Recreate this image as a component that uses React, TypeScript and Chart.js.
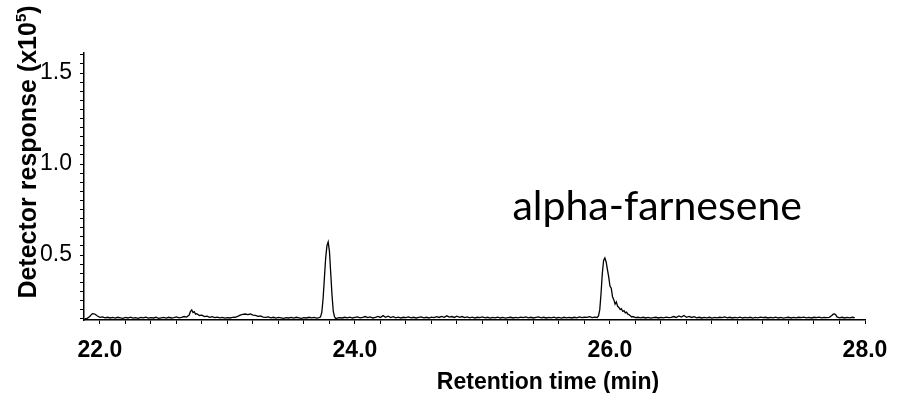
import React, { useEffect, useRef } from "react";
import { Chart, registerables } from "chart.js";

Chart.register(...registerables);

// Retention time (min)
const times: number[] = [
  21.88, 21.90, 21.92, 21.94, 21.96, 21.98, 22.00, 22.02, 22.04, 22.06, 22.08, 22.10, 22.12, 22.14, 22.16, 22.18,
  22.20, 22.22, 22.24, 22.26, 22.28, 22.30, 22.32, 22.34, 22.36, 22.38, 22.40, 22.42, 22.44, 22.46, 22.48, 22.50,
  22.52, 22.54, 22.56, 22.58, 22.60, 22.62, 22.64, 22.66, 22.68, 22.70, 22.71, 22.72, 22.73, 22.74, 22.75, 22.76,
  22.78, 22.80, 22.82, 22.84, 22.86, 22.88, 22.90, 22.92, 22.94, 22.96, 22.98, 23.00, 23.02, 23.04, 23.06, 23.08,
  23.10, 23.12, 23.14, 23.16, 23.18, 23.20, 23.22, 23.24, 23.26, 23.28, 23.30, 23.32, 23.34, 23.36, 23.38, 23.40,
  23.42, 23.44, 23.46, 23.48, 23.50, 23.52, 23.54, 23.56, 23.58, 23.60, 23.62, 23.64, 23.66, 23.68, 23.70, 23.72,
  23.73, 23.74, 23.75, 23.76, 23.77, 23.78, 23.79, 23.80, 23.81, 23.82, 23.83, 23.84, 23.85, 23.86, 23.88, 23.90,
  23.92, 23.94, 23.96, 23.98, 24.00, 24.02, 24.04, 24.06, 24.08, 24.10, 24.12, 24.14, 24.16, 24.18, 24.20, 24.22,
  24.24, 24.26, 24.28, 24.30, 24.32, 24.34, 24.36, 24.38, 24.40, 24.42, 24.44, 24.46, 24.48, 24.50, 24.52, 24.54,
  24.56, 24.58, 24.60, 24.62, 24.64, 24.66, 24.68, 24.70, 24.72, 24.74, 24.76, 24.78, 24.80, 24.82, 24.84, 24.86,
  24.88, 24.90, 24.92, 24.94, 24.96, 24.98, 25.00, 25.02, 25.04, 25.06, 25.08, 25.10, 25.12, 25.14, 25.16, 25.18,
  25.20, 25.22, 25.24, 25.26, 25.28, 25.30, 25.32, 25.34, 25.36, 25.38, 25.40, 25.42, 25.44, 25.46, 25.48, 25.50,
  25.52, 25.54, 25.56, 25.58, 25.60, 25.62, 25.64, 25.66, 25.68, 25.70, 25.72, 25.74, 25.76, 25.78, 25.80, 25.82,
  25.84, 25.86, 25.88, 25.90, 25.91, 25.92, 25.93, 25.94, 25.95, 25.96, 25.97, 25.98, 25.99, 26.00, 26.01, 26.02,
  26.03, 26.04, 26.05, 26.06, 26.07, 26.08, 26.09, 26.10, 26.11, 26.12, 26.13, 26.14, 26.15, 26.16, 26.17, 26.18,
  26.20, 26.22, 26.24, 26.26, 26.28, 26.30, 26.32, 26.34, 26.36, 26.38, 26.40, 26.42, 26.44, 26.46, 26.48, 26.50,
  26.52, 26.54, 26.56, 26.58, 26.60, 26.62, 26.64, 26.66, 26.68, 26.70, 26.72, 26.74, 26.76, 26.78, 26.80, 26.82,
  26.84, 26.86, 26.88, 26.90, 26.92, 26.94, 26.96, 26.98, 27.00, 27.02, 27.04, 27.06, 27.08, 27.10, 27.12, 27.14,
  27.16, 27.18, 27.20, 27.22, 27.24, 27.26, 27.28, 27.30, 27.32, 27.34, 27.36, 27.38, 27.40, 27.42, 27.44, 27.46,
  27.48, 27.50, 27.52, 27.54, 27.56, 27.58, 27.60, 27.62, 27.64, 27.66, 27.68, 27.70, 27.72, 27.74, 27.75, 27.76,
  27.77, 27.78, 27.80, 27.82, 27.84, 27.86, 27.88, 27.90, 27.92,
];

// Detector response (x10^5)
const response: number[] = [
  0.150, 0.152, 0.162, 0.178, 0.176, 0.165, 0.158, 0.160, 0.155, 0.158, 0.154, 0.157, 0.153, 0.158, 0.155, 0.152,
  0.157, 0.154, 0.159, 0.153, 0.156, 0.152, 0.157, 0.155, 0.159, 0.153, 0.156, 0.154, 0.158, 0.152, 0.155, 0.157,
  0.153, 0.158, 0.154, 0.156, 0.160, 0.155, 0.158, 0.162, 0.159, 0.170, 0.190, 0.198, 0.184, 0.189, 0.175, 0.178,
  0.168, 0.170, 0.162, 0.164, 0.158, 0.161, 0.156, 0.159, 0.155, 0.157, 0.153, 0.156, 0.154, 0.157, 0.158, 0.163,
  0.170, 0.174, 0.176, 0.173, 0.176, 0.170, 0.168, 0.163, 0.165, 0.159, 0.157, 0.160, 0.155, 0.158, 0.153, 0.157,
  0.155, 0.152, 0.156, 0.154, 0.157, 0.153, 0.158, 0.155, 0.152, 0.156, 0.154, 0.158, 0.155, 0.157, 0.153, 0.156,
  0.160, 0.185, 0.260, 0.370, 0.480, 0.550, 0.572, 0.520, 0.400, 0.280, 0.190, 0.160, 0.150, 0.153, 0.156, 0.154,
  0.158, 0.155, 0.159, 0.154, 0.157, 0.160, 0.155, 0.158, 0.162, 0.156, 0.160, 0.154, 0.158, 0.163, 0.157, 0.167,
  0.158, 0.164, 0.156, 0.161, 0.155, 0.159, 0.154, 0.158, 0.156, 0.160, 0.155, 0.158, 0.154, 0.157, 0.160, 0.155,
  0.158, 0.154, 0.159, 0.156, 0.161, 0.157, 0.163, 0.158, 0.166, 0.159, 0.162, 0.157, 0.164, 0.158, 0.162, 0.156,
  0.160, 0.155, 0.159, 0.154, 0.158, 0.156, 0.160, 0.155, 0.158, 0.153, 0.157, 0.155, 0.159, 0.154, 0.157, 0.153,
  0.156, 0.158, 0.154, 0.157, 0.155, 0.159, 0.156, 0.160, 0.155, 0.158, 0.154, 0.157, 0.160, 0.155, 0.158, 0.154,
  0.157, 0.155, 0.159, 0.154, 0.157, 0.153, 0.158, 0.155, 0.157, 0.154, 0.158, 0.155, 0.160, 0.156, 0.158, 0.157,
  0.161, 0.156, 0.159, 0.157, 0.165, 0.200, 0.290, 0.400, 0.470, 0.484, 0.462, 0.420, 0.380, 0.330, 0.318, 0.270,
  0.255, 0.230, 0.242, 0.218, 0.212, 0.200, 0.205, 0.190, 0.194, 0.182, 0.186, 0.175, 0.172, 0.166, 0.160, 0.162,
  0.156, 0.158, 0.155, 0.158, 0.154, 0.157, 0.153, 0.156, 0.158, 0.154, 0.157, 0.155, 0.159, 0.156, 0.158, 0.162,
  0.157, 0.165, 0.159, 0.168, 0.158, 0.163, 0.157, 0.161, 0.155, 0.158, 0.154, 0.157, 0.155, 0.158, 0.153, 0.157,
  0.155, 0.158, 0.156, 0.160, 0.155, 0.158, 0.154, 0.157, 0.155, 0.159, 0.154, 0.157, 0.155, 0.158, 0.153, 0.157,
  0.155, 0.159, 0.156, 0.158, 0.154, 0.157, 0.155, 0.159, 0.154, 0.157, 0.153, 0.156, 0.158, 0.154, 0.157, 0.155,
  0.158, 0.156, 0.159, 0.155, 0.157, 0.154, 0.158, 0.156, 0.159, 0.155, 0.157, 0.156, 0.158, 0.168, 0.175, 0.176,
  0.172, 0.160, 0.155, 0.158, 0.154, 0.157, 0.155, 0.158, 0.156,
];

const xTickLabels: number[] = [22, 24, 26, 28];
const yTickLabels: number[] = [0.5, 1.0, 1.5];

const xTitle = "Retention time (min)";
const yTitleMain = "Detector response (x10";
const yTitleSup = "5";
const yTitleEnd = ")";

const annotationText = "alpha-farnesene";
const annotationX = 26.37;
const annotationY = 0.69;

const FONT = '"Liberation Sans", Arial, sans-serif';

const isLabelled = (v: number, list: number[]) => list.some((l) => Math.abs(l - v) < 1e-6);

const textPlugin = {
  id: "texts",
  afterDraw(chart: any) {
    const ctx = chart.ctx as CanvasRenderingContext2D;
    const xs = chart.scales.x;
    const ys = chart.scales.y;
    ctx.save();
    ctx.fillStyle = "#000";
    // annotation
    ctx.font = '41px Lato, "Open Sans", sans-serif';
    ctx.textAlign = "center";
    ctx.textBaseline = "alphabetic";
    ctx.fillText(annotationText, xs.getPixelForValue(annotationX), ys.getPixelForValue(annotationY));
    // x title
    ctx.font = `bold 23px ${FONT}`;
    ctx.fillText(xTitle, 548, 389);
    // y title (rotated)
    ctx.translate(36, 152);
    ctx.rotate(-Math.PI / 2);
    ctx.textAlign = "left";
    const mainFont = `bold 25px ${FONT}`;
    const supFont = `bold 15px ${FONT}`;
    ctx.font = mainFont;
    const w1 = ctx.measureText(yTitleMain).width;
    const w3 = ctx.measureText(yTitleEnd).width;
    ctx.font = supFont;
    const w2 = ctx.measureText(yTitleSup).width;
    const total = w1 + w2 + w3;
    let x0 = -total / 2;
    ctx.font = mainFont;
    ctx.fillText(yTitleMain, x0, 0);
    x0 += w1;
    ctx.font = supFont;
    ctx.fillText(yTitleSup, x0, -10);
    x0 += w2;
    ctx.font = mainFont;
    ctx.fillText(yTitleEnd, x0, 0);
    ctx.restore();
  },
};

export default function App() {
  const ref = useRef<HTMLCanvasElement | null>(null);

  useEffect(() => {
    if (!ref.current) return;
    const points = times.map((t, i) => ({ x: t, y: response[i] }));
    const chart = new Chart(ref.current, {
      type: "line",
      data: {
        datasets: [
          {
            data: points,
            borderColor: "#000",
            borderWidth: 1.3,
            pointRadius: 0,
            tension: 0,
            fill: false,
          },
        ],
      },
      options: {
        animation: false,
        responsive: false,
        layout: { padding: { top: 53, right: 41, left: 0, bottom: 0 } },
        plugins: { legend: { display: false }, tooltip: { enabled: false }, title: { display: false } },
        scales: {
          x: {
            type: "linear",
            min: 21.875,
            max: 28,
            afterFit: (s: any) => {
              s.height = 73;
            },
            border: { display: true, color: "#000", width: 1.5 },
            grid: { display: true, drawOnChartArea: false, drawTicks: true, tickLength: 4, color: "#000" },
            ticks: {
              stepSize: 0.2,
              includeBounds: false,
              autoSkip: false,
              maxTicksLimit: 1000,
              maxRotation: 0,
              minRotation: 0,
              padding: 13,
              color: "#000",
              font: { family: FONT, size: 23, weight: "bold" },
              callback: (v: any) => (isLabelled(Number(v), xTickLabels) ? Number(v).toFixed(1) : ""),
            },
          },
          y: {
            type: "linear",
            min: 0.143,
            max: 1.61,
            afterFit: (s: any) => {
              s.width = 84;
            },
            border: { display: true, color: "#000", width: 1.5 },
            grid: { display: true, drawOnChartArea: false, drawTicks: true, tickLength: 4, color: "#000" },
            ticks: {
              stepSize: 0.05,
              includeBounds: false,
              autoSkip: false,
              maxTicksLimit: 1000,
              padding: 8,
              color: "#000",
              font: { family: FONT, size: 23 },
              callback: (v: any) => (isLabelled(Number(v), yTickLabels) ? Number(v).toFixed(1) : ""),
            },
          },
        },
      },
      plugins: [textPlugin],
    });
    return () => chart.destroy();
  }, []);

  return (
    <div style={{ position: "fixed", left: 0, top: 0, width: 906, height: 393, background: "#fff" }}>
      <canvas ref={ref} width={906} height={393} style={{ display: "block" }} />
    </div>
  );
}
